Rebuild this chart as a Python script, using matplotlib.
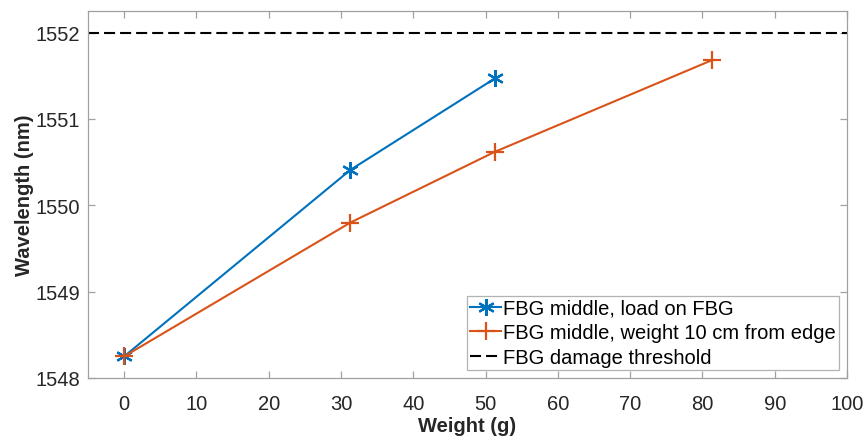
import matplotlib
matplotlib.use("Agg")
import matplotlib.pyplot as plt

plt.rcParams['font.family'] = ['Liberation Sans', 'DejaVu Sans']

# Measured data
weight_load = [0, 31.3, 51.3]
wl_load = [1548.25, 1550.41, 1551.47]

weight_edge = [0, 31.3, 51.3, 81.3]
wl_edge = [1548.25, 1549.80, 1550.62, 1551.68]

damage_threshold = 1552.0

labels = ["FBG middle, load on FBG",
          "FBG middle, weight 10 cm from edge",
          "FBG damage threshold"]

xticks = list(range(0, 101, 10))
yticks = [1548, 1549, 1550, 1551, 1552]

blue = '#0072BD'
orange = '#D95319'
axis_gray = '#a0a0a0'
text_dark = '#262626'
fs = 14.5

fig = plt.figure(figsize=(8.67, 4.39), dpi=100)
ax = fig.add_axes([0.1015, 0.1367, 0.8755, 0.836])

ax.plot(weight_load, wl_load, color=blue, lw=1.5, marker=(6, 2, 0),
        ms=12, mew=1.6, label=labels[0])
ax.plot(weight_edge, wl_edge, color=orange, lw=1.5, marker='+',
        ms=13, mew=1.6, label=labels[1])
ax.axhline(damage_threshold, color='black', lw=1.5, dashes=(5.3, 2.4),
           label=labels[2])

ax.set_xlim(-5, 100)
ax.set_ylim(1548, 1552.25)
ax.set_xticks(xticks)
ax.set_yticks(yticks)

for s in ax.spines.values():
    s.set_color(axis_gray)
    s.set_linewidth(0.9)
ax.tick_params(direction='in', length=5, width=0.9, color=axis_gray,
               top=True, right=True, labelsize=fs, labelcolor=text_dark)
ax.tick_params(axis='y', pad=5.5)
ax.tick_params(axis='x', pad=11.5)

ax.set_xlabel('Weight (g)', fontsize=fs, fontweight='bold', color=text_dark,
              labelpad=2.5)
ax.set_ylabel('Wavelength (nm)', fontsize=fs, fontweight='bold',
              color=text_dark, labelpad=1)

leg = ax.legend(loc='lower right', bbox_to_anchor=(0.9895, 0.0218),
                fontsize=fs, frameon=True, fancybox=False, handlelength=1.55,
                handletextpad=0.1, borderpad=0.15, labelspacing=0.28,
                borderaxespad=0)
leg.get_frame().set_edgecolor(axis_gray)
leg.get_frame().set_linewidth(0.9)
for t in leg.get_texts():
    t.set_color('black')

fig.savefig('out.png', dpi=100)
